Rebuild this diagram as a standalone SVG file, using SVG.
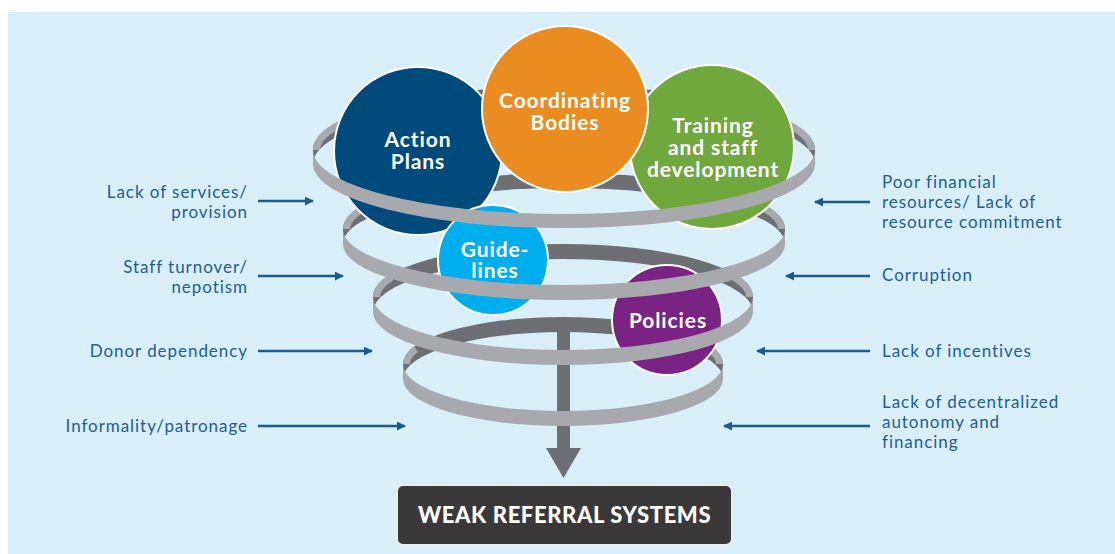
<svg xmlns="http://www.w3.org/2000/svg" width="1115" height="554" viewBox="0 0 1115 554">
  <defs>
    <style>
      .bg { fill: #d8eef9; }
      .ring-back { fill: #6d6f72; }
      .ring-front { fill: #a7a9ac; }
      .ring-turn { fill: none; stroke: #a7a9ac; stroke-width: 7; }
      .bubble { stroke: #ffffff; stroke-width: 2; }
      .bubble-text { font-family: Lato, "Open Sans", sans-serif; font-weight: 700; font-size: 21px; letter-spacing: 0.9px; fill: #ffffff; text-anchor: middle; }
      .label { font-family: Lato, "Open Sans", sans-serif; font-size: 17px; letter-spacing: 0.95px; fill: #1f5d92; }
      .label-l { text-anchor: end; }
      .label-r { text-anchor: start; }
      .pointer { stroke: #1c5a8e; stroke-width: 2.5; fill: none; marker-end: url(#tip); }
      .stem { fill: #6d6f72; }
      .result-box { fill: #3a3839; stroke: #e9eef1; stroke-width: 2; }
      .result-text { font-family: Lato, "Open Sans", sans-serif; font-weight: 900; font-size: 22px; letter-spacing: 0.6px; fill: #ffffff; text-anchor: middle; }
    </style>
    <marker id="tip" viewBox="0 0 10 10" refX="9" refY="5" markerWidth="9" markerHeight="9" markerUnits="userSpaceOnUse" orient="auto">
      <path d="M0,0 L10,5 L0,10 Z" fill="#1c5a8e"/>
    </marker>
  </defs>

  <!-- page and panel -->
  <rect x="0" y="0" width="1115" height="554" fill="#ffffff"/>
  <rect class="bg" x="8" y="12" width="1107" height="542"/>

  <!-- far (inner) faces of the spiral rings, with the outer face turning away at each end -->
  <g id="spiral-back">
    <path class="ring-back" d="M403,364 A160,47 0 0 1 723,364 L723,379 A160,47 0 0 0 403,379 Z"/>
    <path class="ring-turn" d="M406.5,364 A156.5,43.5 0 0 1 416,349 M719.5,364 A156.5,43.5 0 0 0 710,349"/>
    <path class="ring-back" d="M373,297 A190,53 0 0 1 753,297 L753,312 A190,53 0 0 0 373,312 Z"/>
    <path class="ring-turn" d="M376.5,297 A186.5,49.5 0 0 1 392,277 M749.5,297 A186.5,49.5 0 0 0 734,277"/>
    <path class="ring-back" d="M343,229 A221,56 0 0 1 785,229 L785,244 A221,56 0 0 0 343,244 Z"/>
    <path class="ring-turn" d="M346.5,229 A217.5,52.5 0 0 1 375.6,202.8 M781.5,229 A217.5,52.5 0 0 0 752.4,202.8"/>
    <path class="ring-back" d="M313,150 A251,64 0 0 1 815,150 L815,164 A251,64 0 0 0 313,164 Z"/>
    <path class="ring-turn" d="M316.5,150 A247.5,60.5 0 0 1 361.3,115.3 M811.5,150 A247.5,60.5 0 0 0 766.7,115.3"/>
  </g>

  <!-- connectors -->
  <g id="connectors">
    <!-- central down arrow -->
    <rect class="stem" x="557" y="326" width="13" height="124"/>
    <path class="stem" d="M546,448 L581,448 L563.5,478 Z"/>
    <!-- left-hand pressures -->
    <line class="pointer" x1="258" y1="201" x2="313" y2="201"/>
    <line class="pointer" x1="258" y1="276" x2="343" y2="276"/>
    <line class="pointer" x1="258" y1="351" x2="372" y2="351"/>
    <line class="pointer" x1="258" y1="426" x2="405" y2="426"/>
    <!-- right-hand pressures -->
    <line class="pointer" x1="870" y1="202" x2="815" y2="202"/>
    <line class="pointer" x1="870" y1="276" x2="786" y2="276"/>
    <line class="pointer" x1="870" y1="351" x2="757" y2="351"/>
    <line class="pointer" x1="870" y1="426" x2="724" y2="426"/>
  </g>

  <!-- bubbles -->
  <g id="action-plans">
    <circle class="bubble" cx="418" cy="151" r="84" fill="#004a7c"/>
    <text class="bubble-text" x="418" y="147">Action</text>
    <text class="bubble-text" x="418" y="169">Plans</text>
  </g>
  <g id="training">
    <circle class="bubble" cx="712" cy="147" r="82" fill="#71a83e"/>
    <text class="bubble-text" x="713" y="133">Training</text>
    <text class="bubble-text" x="713" y="155">and staff</text>
    <text class="bubble-text" x="713" y="177">development</text>
  </g>
  <g id="coordinating-bodies">
    <circle class="bubble" cx="565" cy="109" r="83" fill="#e98c22"/>
    <text class="bubble-text" x="565" y="108">Coordinating</text>
    <text class="bubble-text" x="565" y="130">Bodies</text>
  </g>
  <g id="guidelines">
    <circle class="bubble" cx="493" cy="260" r="55" fill="#00adef"/>
    <text class="bubble-text" x="495" y="257">Guide-</text>
    <text class="bubble-text" x="495" y="278">lines</text>
  </g>
  <g id="policies">
    <circle class="bubble" cx="667" cy="320" r="55" fill="#7b2385"/>
    <text class="bubble-text" x="668" y="328">Policies</text>
  </g>

  <!-- near (outer) faces of the spiral rings -->
  <g id="spiral-front">
    <path class="ring-front" d="M313,150 A251,64 0 0 0 815,150 L815,164 A251,64 0 0 1 313,164 Z"/>
    <path class="ring-front" d="M343,229 A221,56 0 0 0 785,229 L785,244 A221,56 0 0 1 343,244 Z"/>
    <path class="ring-front" d="M373,297 A190,53 0 0 0 753,297 L753,312 A190,53 0 0 1 373,312 Z"/>
    <path class="ring-front" d="M403,364 A160,47 0 0 0 723,364 L723,379 A160,47 0 0 1 403,379 Z"/>
  </g>

  <!-- pressure labels, left -->
  <g id="lack-of-services">
    <text class="label label-l" x="248" y="198">Lack of services/</text>
    <text class="label label-l" x="248" y="218">provision</text>
  </g>
  <g id="staff-turnover">
    <text class="label label-l" x="248" y="273">Staff turnover/</text>
    <text class="label label-l" x="248" y="293">nepotism</text>
  </g>
  <g id="donor-dependency">
    <text class="label label-l" x="248" y="357">Donor dependency</text>
  </g>
  <g id="informality">
    <text class="label label-l" x="248" y="432">Informality/patronage</text>
  </g>

  <!-- pressure labels, right -->
  <g id="poor-financial">
    <text class="label label-r" x="882" y="188">Poor financial</text>
    <text class="label label-r" x="882" y="208">resources/ Lack of</text>
    <text class="label label-r" x="882" y="228">resource commitment</text>
  </g>
  <g id="corruption">
    <text class="label label-r" x="882" y="281">Corruption</text>
  </g>
  <g id="lack-of-incentives">
    <text class="label label-r" x="882" y="357">Lack of incentives</text>
  </g>
  <g id="lack-of-decentralization">
    <text class="label label-r" x="882" y="408">Lack of decentralized</text>
    <text class="label label-r" x="882" y="428">autonomy and</text>
    <text class="label label-r" x="882" y="448">financing</text>
  </g>

  <!-- outcome -->
  <g id="weak-referral-systems">
    <rect class="result-box" x="397" y="485" width="335" height="60" rx="6"/>
    <text class="result-text" x="564.5" y="523">WEAK REFERRAL SYSTEMS</text>
  </g>
</svg>
